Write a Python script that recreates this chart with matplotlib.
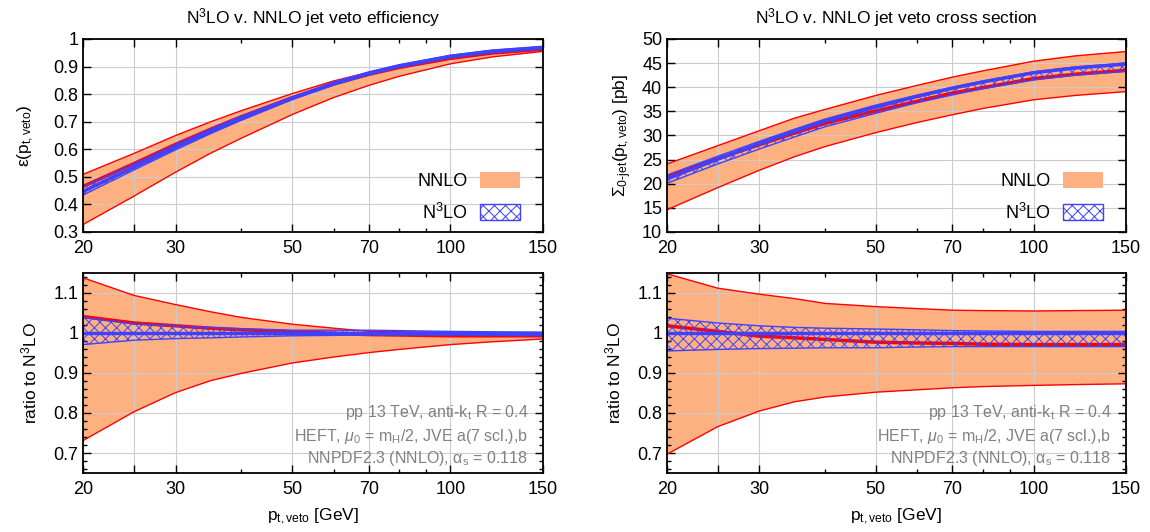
import numpy as np
import matplotlib
matplotlib.use("Agg")
import matplotlib.pyplot as plt
from matplotlib.patches import Patch
from matplotlib.ticker import FixedLocator, NullFormatter, MultipleLocator

plt.rcParams['font.family'] = ['Liberation Sans', 'DejaVu Sans']
plt.rcParams['mathtext.fontset'] = 'custom'
plt.rcParams['mathtext.rm'] = 'Liberation Sans'
plt.rcParams['mathtext.it'] = 'Liberation Sans:italic'
plt.rcParams['hatch.linewidth'] = 0.7

# p_t,veto points (GeV)
pt = [20, 25, 30, 35, 40, 50, 60, 70, 80, 100, 120, 150]

# jet veto efficiency
eff_n3lo    = [0.447, 0.535, 0.607, 0.665, 0.712, 0.785, 0.838, 0.875, 0.902, 0.937, 0.956, 0.970]
eff_n3lo_lo = [0.434, 0.525, 0.598, 0.657, 0.705, 0.780, 0.833, 0.871, 0.897, 0.932, 0.950, 0.963]
eff_n3lo_hi = [0.464, 0.547, 0.618, 0.674, 0.720, 0.790, 0.844, 0.881, 0.907, 0.941, 0.959, 0.972]
eff_nnlo    = [0.465, 0.548, 0.618, 0.673, 0.718, 0.787, 0.837, 0.872, 0.897, 0.930, 0.949, 0.963]
eff_nnlo_lo = [0.327, 0.430, 0.517, 0.586, 0.640, 0.726, 0.788, 0.832, 0.865, 0.910, 0.935, 0.955]
eff_nnlo_hi = [0.509, 0.585, 0.650, 0.700, 0.740, 0.802, 0.848, 0.879, 0.905, 0.939, 0.956, 0.968]

# ratio to N3LO, efficiency
reff_n3lo    = [1.0] * 12
reff_n3lo_lo = [0.971, 0.982, 0.986, 0.988, 0.990, 0.993, 0.994, 0.995, 0.995, 0.995, 0.994, 0.993]
reff_n3lo_hi = [1.039, 1.023, 1.018, 1.014, 1.011, 1.007, 1.007, 1.007, 1.006, 1.004, 1.003, 1.002]
reff_nnlo    = [1.041, 1.025, 1.018, 1.012, 1.008, 1.003, 0.999, 0.996, 0.995, 0.993, 0.993, 0.993]
reff_nnlo_lo = [0.731, 0.803, 0.851, 0.881, 0.899, 0.925, 0.940, 0.951, 0.959, 0.971, 0.978, 0.985]
reff_nnlo_hi = [1.138, 1.094, 1.071, 1.053, 1.039, 1.022, 1.012, 1.004, 1.003, 1.002, 1.000, 0.998]

# 0-jet cross section [pb]
xs_n3lo    = [21.0, 25.1, 28.3, 30.9, 33.0, 35.9, 38.1, 39.8, 41.1, 43.0, 44.0, 44.8]
xs_n3lo_lo = [20.1, 24.1, 27.2, 29.7, 31.8, 34.6, 36.8, 38.4, 39.7, 41.5, 42.5, 43.3]
xs_n3lo_hi = [21.8, 25.7, 28.8, 31.3, 33.4, 36.3, 38.4, 40.0, 41.3, 43.2, 44.2, 45.0]
xs_nnlo    = [21.4, 25.2, 28.1, 30.5, 32.5, 35.1, 37.1, 38.8, 39.9, 41.8, 42.7, 43.5]
xs_nnlo_lo = [14.6, 19.2, 22.8, 25.6, 27.7, 30.6, 32.7, 34.3, 35.6, 37.4, 38.3, 39.1]
xs_nnlo_hi = [24.1, 27.9, 31.0, 33.6, 35.4, 38.3, 40.4, 42.1, 43.4, 45.4, 46.5, 47.4]

# ratio to N3LO, cross section
rxs_n3lo    = [1.0] * 12
rxs_n3lo_lo = [0.955, 0.959, 0.961, 0.962, 0.963, 0.963, 0.965, 0.966, 0.966, 0.966, 0.966, 0.966]
rxs_n3lo_hi = [1.037, 1.025, 1.018, 1.014, 1.012, 1.010, 1.008, 1.006, 1.005, 1.004, 1.004, 1.004]
rxs_nnlo    = [1.018, 1.004, 0.992, 0.988, 0.984, 0.977, 0.975, 0.974, 0.972, 0.971, 0.971, 0.971]
rxs_nnlo_lo = [0.697, 0.766, 0.805, 0.828, 0.840, 0.852, 0.858, 0.863, 0.866, 0.869, 0.871, 0.873]
rxs_nnlo_hi = [1.148, 1.112, 1.097, 1.086, 1.074, 1.066, 1.061, 1.057, 1.056, 1.055, 1.056, 1.057]

xticks = [20, 25, 30, 50, 70, 100, 150]
xticklabels = ['20', '', '30', '50', '70', '100', '150']
xminor = [40, 60, 80, 90]

ORANGE = '#FDB181'
RED = '#FF0000'
BLUE = '#4040FF'
GRID = '#cccccc'
HATCH = 'xxx'


def draw(ax, nnlo, nlo_lo, nlo_hi, n3, n3_lo, n3_hi):
    ax.fill_between(pt, nlo_lo, nlo_hi, facecolor=ORANGE, edgecolor='none', zorder=1)
    ax.plot(pt, nlo_lo, color=RED, lw=1.0, zorder=2)
    ax.plot(pt, nlo_hi, color=RED, lw=1.0, zorder=2)
    ax.plot(pt, nnlo, color=RED, lw=2.5, zorder=3)
    ax.fill_between(pt, n3_lo, n3_hi, facecolor='none', edgecolor=BLUE,
                    hatch=HATCH, lw=0, zorder=4)
    ax.plot(pt, n3_lo, color=BLUE, lw=1.0, zorder=5)
    ax.plot(pt, n3_hi, color=BLUE, lw=1.0, zorder=5)
    ax.plot(pt, n3, color=BLUE, lw=2.5, zorder=6)


def style(ax):
    ax.set_xscale('log')
    ax.set_xlim(20, 150)
    ax.xaxis.set_major_locator(FixedLocator(xticks))
    ax.set_xticklabels(xticklabels)
    ax.xaxis.set_minor_locator(FixedLocator(xminor))
    ax.xaxis.set_minor_formatter(NullFormatter())
    ax.tick_params(which='both', direction='in', top=True, right=True, labelsize=13)
    ax.tick_params(which='major', length=6, width=1)
    ax.tick_params(which='minor', length=3, width=1)
    ax.tick_params(axis='x', pad=6)
    for s in ax.spines.values():
        s.set_linewidth(1.3)
        s.set_zorder(10)
    ax.grid(True, which='major', color=GRID, lw=0.8, zorder=0.5)


fig = plt.figure(figsize=(11.5, 5.32), dpi=100)
W, H = 1150.0, 532.0
ax1 = fig.add_axes([83 / W, 1 - 232 / H, 460 / W, 193 / H])
ax2 = fig.add_axes([83 / W, 1 - 473 / H, 460 / W, 200 / H])
ax3 = fig.add_axes([667 / W, 1 - 232 / H, 459 / W, 193 / H])
ax4 = fig.add_axes([667 / W, 1 - 473 / H, 459 / W, 200 / H])

draw(ax1, eff_nnlo, eff_nnlo_lo, eff_nnlo_hi, eff_n3lo, eff_n3lo_lo, eff_n3lo_hi)
draw(ax2, reff_nnlo, reff_nnlo_lo, reff_nnlo_hi, reff_n3lo, reff_n3lo_lo, reff_n3lo_hi)
draw(ax3, xs_nnlo, xs_nnlo_lo, xs_nnlo_hi, xs_n3lo, xs_n3lo_lo, xs_n3lo_hi)
draw(ax4, rxs_nnlo, rxs_nnlo_lo, rxs_nnlo_hi, rxs_n3lo, rxs_n3lo_lo, rxs_n3lo_hi)

for ax in (ax1, ax2, ax3, ax4):
    style(ax)

ax1.set_ylim(0.3, 1.0)
ax1.set_yticks([0.3, 0.4, 0.5, 0.6, 0.7, 0.8, 0.9, 1.0])
ax1.set_yticklabels(['0.3', '0.4', '0.5', '0.6', '0.7', '0.8', '0.9', '1'])
ax1.set_ylabel(r'ε(p$_\mathregular{t,veto}$)', fontsize=12.5, labelpad=12)
ax1.set_title(r'N$^\mathregular{3}$LO v. NNLO jet veto efficiency', fontsize=12.5, pad=11)

ax3.set_ylim(10, 50)
ax3.set_yticks([10, 15, 20, 25, 30, 35, 40, 45, 50])
ax3.set_ylabel(r'Σ$_\mathregular{0\text{-}jet}$(p$_\mathregular{t,veto}$) [pb]', fontsize=12.5, labelpad=6)
ax3.set_title(r'N$^\mathregular{3}$LO v. NNLO jet veto cross section', fontsize=12.5, pad=11)

for ax in (ax2, ax4):
    ax.set_ylim(0.65, 1.15)
    ax.set_yticks([0.7, 0.8, 0.9, 1.0, 1.1])
    ax.set_yticklabels(['0.7', '0.8', '0.9', '1', '1.1'])
    ax.yaxis.set_minor_locator(MultipleLocator(0.02))
    ax.set_ylabel(r'ratio to N$^\mathregular{3}$LO', fontsize=12.5, labelpad=10)
    ax.set_xlabel(r'p$_\mathregular{t,veto}$ [GeV]', fontsize=12.5, labelpad=6)
    notes = [r'pp 13 TeV, anti-k$_\mathregular{t}$ R = 0.4',
             r'HEFT, $\mu_\mathregular{0}$ = m$_\mathregular{H}$/2, JVE a(7 scl.),b',
             r'NNPDF2.3 (NNLO), α$_\mathregular{s}$ = 0.118']
    for t, yy in zip(notes, [0.30, 0.185, 0.075]):
        ax.text(0.968, yy, t, transform=ax.transAxes, ha='right', va='center',
                color='#808080', fontsize=11.5, zorder=12)

handles = [Patch(facecolor=ORANGE, edgecolor='none', label='NNLO'),
           Patch(facecolor='white', edgecolor=BLUE, hatch=HATCH, lw=1, label=r'N$^\mathregular{3}$LO')]
for ax in (ax1, ax3):
    ax.legend(handles=handles, loc='lower right', bbox_to_anchor=(0.985, -0.035),
              frameon=False, markerfirst=False, fontsize=13, handlelength=2.2,
              handleheight=1.0, labelspacing=0.7, handletextpad=0.7)

fig.savefig('out.png', dpi=100)
